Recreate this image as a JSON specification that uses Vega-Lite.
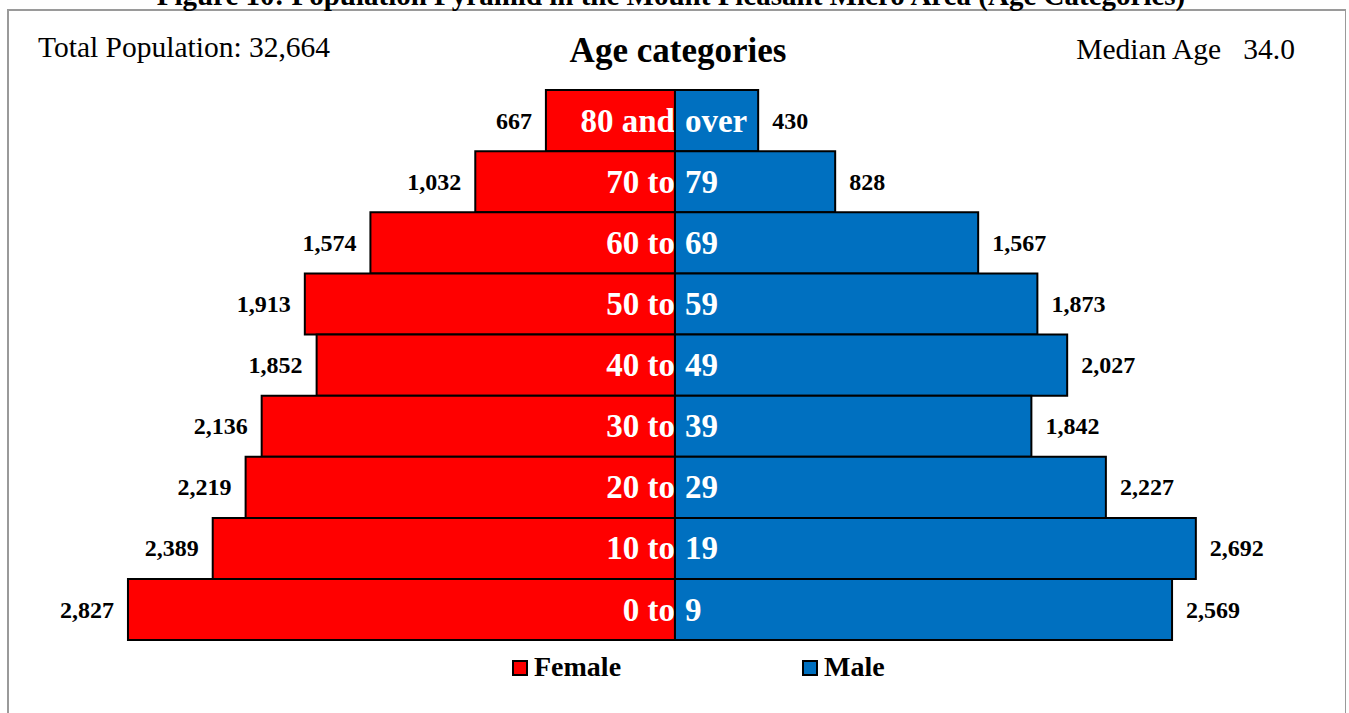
{
  "$schema": "https://vega.github.io/schema/vega-lite/v6.json",
  "width": 1338,
  "height": 720,
  "autosize": {"type": "none"},
  "padding": {"left": 8, "top": 10, "right": 0, "bottom": 0},
  "background": "white",
  "datasets": {
    "pop": [
      {"age": "80 and over", "sex": "Female", "population": 667},
      {"age": "70 to 79", "sex": "Female", "population": 1032},
      {"age": "60 to 69", "sex": "Female", "population": 1574},
      {"age": "50 to 59", "sex": "Female", "population": 1913},
      {"age": "40 to 49", "sex": "Female", "population": 1852},
      {"age": "30 to 39", "sex": "Female", "population": 2136},
      {"age": "20 to 29", "sex": "Female", "population": 2219},
      {"age": "10 to 19", "sex": "Female", "population": 2389},
      {"age": "0 to 9", "sex": "Female", "population": 2827},
      {"age": "80 and over", "sex": "Male", "population": 430},
      {"age": "70 to 79", "sex": "Male", "population": 828},
      {"age": "60 to 69", "sex": "Male", "population": 1567},
      {"age": "50 to 59", "sex": "Male", "population": 1873},
      {"age": "40 to 49", "sex": "Male", "population": 2027},
      {"age": "30 to 39", "sex": "Male", "population": 1842},
      {"age": "20 to 29", "sex": "Male", "population": 2227},
      {"age": "10 to 19", "sex": "Male", "population": 2692},
      {"age": "0 to 9", "sex": "Male", "population": 2569}
    ],
    "ages": [
      {"age": "80 and over", "first": "80 and", "last": "over"},
      {"age": "70 to 79", "first": "70 to", "last": "79"},
      {"age": "60 to 69", "first": "60 to", "last": "69"},
      {"age": "50 to 59", "first": "50 to", "last": "59"},
      {"age": "40 to 49", "first": "40 to", "last": "49"},
      {"age": "30 to 39", "first": "30 to", "last": "39"},
      {"age": "20 to 29", "first": "20 to", "last": "29"},
      {"age": "10 to 19", "first": "10 to", "last": "19"},
      {"age": "0 to 9", "first": "0 to", "last": "9"}
    ]
  },
  "encoding": {
    "y": {
      "field": "age",
      "type": "nominal",
      "axis": null,
      "scale": {
        "domain": ["header", "80 and over", "70 to 79", "60 to 69", "50 to 59", "40 to 49", "30 to 39", "20 to 29", "10 to 19", "0 to 9"],
        "paddingInner": 0,
        "paddingOuter": 0.891,
        "align": 0.1745
      }
    }
  },
  "layer": [
    {
      "layer": [
        {
          "data": {"name": "pop"},
          "transform": [{"filter": "datum.sex === 'Female'"}],
          "mark": {"type": "bar", "stroke": "black", "strokeWidth": 2, "opacity": 1},
          "encoding": {
            "x": {"field": "population", "type": "quantitative", "axis": null, "scale": {"domain": [3447, -3468], "nice": false, "zero": false}},
            "color": {
              "field": "sex", "type": "nominal",
              "scale": {"domain": ["Female", "Male"], "range": ["#FF0000", "#0070C0"]},
              "legend": {"orient": "none", "legendX": 498, "legendY": 644, "direction": "horizontal", "columns": 2, "columnPadding": 174, "title": null, "symbolType": "square", "symbolSize": 196, "symbolStrokeColor": "black", "symbolStrokeWidth": 2, "symbolOpacity": 1, "labelFont": "Liberation Serif", "labelFontSize": 28, "labelFontWeight": "bold", "labelColor": "black", "labelOffset": 0, "padding": 0}
            }
          }
        },
        {
          "data": {"name": "pop"},
          "transform": [{"filter": "datum.sex === 'Female'"}],
          "mark": {"type": "text", "align": "right", "baseline": "middle", "dx": -14, "dy": 1, "font": "Liberation Serif", "fontSize": 24, "fontWeight": "bold", "color": "black"},
          "encoding": {
            "x": {"field": "population", "type": "quantitative", "axis": null, "scale": {"domain": [3447, -3468], "nice": false, "zero": false}},
            "text": {"field": "population", "type": "quantitative", "format": ","}
          }
        },
        {
          "data": {"name": "ages"},
          "mark": {"type": "text", "align": "right", "baseline": "middle", "dx": 0, "dy": 1, "font": "Liberation Serif", "fontSize": 33, "fontWeight": "bold", "color": "white"},
          "encoding": {
            "x": {"datum": 0, "type": "quantitative"},
            "text": {"field": "first", "type": "nominal"}
          }
        }
      ]
    },
    {
      "layer": [
        {
          "data": {"name": "pop"},
          "transform": [{"filter": "datum.sex === 'Male'"}],
          "mark": {"type": "bar", "stroke": "black", "strokeWidth": 2, "opacity": 1},
          "encoding": {
            "x": {"field": "population", "type": "quantitative", "axis": null, "scale": {"domain": [-3447, 3468], "nice": false, "zero": false}},
            "color": {
              "field": "sex", "type": "nominal",
              "scale": {"domain": ["Female", "Male"], "range": ["#FF0000", "#0070C0"]},
              "legend": {"orient": "none", "legendX": 498, "legendY": 644, "direction": "horizontal", "columns": 2, "columnPadding": 174, "title": null, "symbolType": "square", "symbolSize": 196, "symbolStrokeColor": "black", "symbolStrokeWidth": 2, "symbolOpacity": 1, "labelFont": "Liberation Serif", "labelFontSize": 28, "labelFontWeight": "bold", "labelColor": "black", "labelOffset": 0, "padding": 0}
            }
          }
        },
        {
          "data": {"name": "pop"},
          "transform": [{"filter": "datum.sex === 'Male'"}],
          "mark": {"type": "text", "align": "left", "baseline": "middle", "dx": 14, "dy": 1, "font": "Liberation Serif", "fontSize": 24, "fontWeight": "bold", "color": "black"},
          "encoding": {
            "x": {"field": "population", "type": "quantitative", "axis": null, "scale": {"domain": [-3447, 3468], "nice": false, "zero": false}},
            "text": {"field": "population", "type": "quantitative", "format": ","}
          }
        },
        {
          "data": {"name": "ages"},
          "mark": {"type": "text", "align": "left", "baseline": "middle", "dx": 10, "dy": 1, "font": "Liberation Serif", "fontSize": 33, "fontWeight": "bold", "color": "white"},
          "encoding": {
            "x": {"datum": 0, "type": "quantitative"},
            "text": {"field": "last", "type": "nominal"}
          }
        },
        {
          "data": {"values": [{"label": "Figure 10: Population Pyramid in the Mount Pleasant Micro Area (Age Categories)"}]},
          "mark": {"type": "text", "align": "center", "baseline": "alphabetic", "dx": -4, "dy": -54.5, "font": "Liberation Serif", "fontSize": 29, "fontWeight": "bold", "color": "black"},
          "encoding": {
            "x": {"datum": 0, "type": "quantitative"},
            "y": {"datum": "header", "type": "nominal"},
            "text": {"field": "label", "type": "nominal"}
          }
        },
        {
          "data": {"values": [{"label": "Total Population: 32,664"}]},
          "mark": {"type": "text", "align": "left", "baseline": "alphabetic", "dy": -2.5, "font": "Liberation Serif", "fontSize": 29.5, "color": "black"},
          "encoding": {
            "x": {"datum": -3292, "type": "quantitative"},
            "y": {"datum": "header", "type": "nominal"},
            "text": {"field": "label", "type": "nominal"}
          }
        },
        {
          "data": {"values": [{"label": "Median Age\u00a0\u00a0\u00a034.0"}]},
          "mark": {"type": "text", "align": "right", "baseline": "alphabetic", "dy": -0.5, "font": "Liberation Serif", "fontSize": 29.5, "color": "black"},
          "encoding": {
            "x": {"datum": 3204, "type": "quantitative"},
            "y": {"datum": "header", "type": "nominal"},
            "text": {"field": "label", "type": "nominal"}
          }
        },
        {
          "data": {"values": [{"label": "Age categories"}]},
          "mark": {"type": "text", "align": "center", "baseline": "alphabetic", "dx": 3, "dy": 2.2, "font": "Liberation Serif", "fontSize": 35, "fontWeight": "bold", "color": "black"},
          "encoding": {
            "x": {"datum": 0, "type": "quantitative"},
            "y": {"datum": "header", "type": "nominal"},
            "text": {"field": "label", "type": "nominal"}
          }
        }
      ]
    }
  ],
  "resolve": {"scale": {"x": "independent"}},
  "config": {
    "font": "Liberation Serif",
    "view": {"stroke": "#9a9a9a", "strokeWidth": 2},
    "legend": {"padding": 0}
  }
}
